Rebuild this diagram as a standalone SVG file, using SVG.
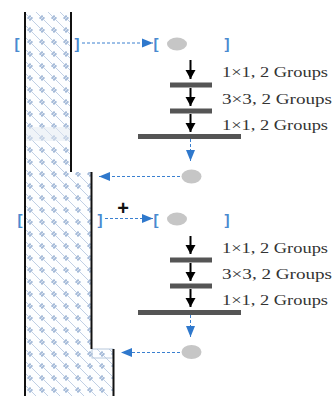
<svg xmlns="http://www.w3.org/2000/svg" width="336" height="396" viewBox="0 0 336 396">
<style>
.wall{stroke:#111;stroke-width:2;fill:none}
.bar{fill:#555}
.node{fill:#c6c6c6}
.blk{stroke:#000;stroke-width:2;fill:none}
.dash{stroke:#3a80d0;stroke-width:1;stroke-dasharray:3 2;fill:none}
.brk{font-family:"Liberation Sans",Arial,sans-serif;font-size:15px;font-weight:bold;fill:#4a8ad0}
.lbl{font-family:"Liberation Serif","Times New Roman",serif;font-size:15px;fill:#333}
</style>
<defs>
<pattern id="hatch" patternUnits="userSpaceOnUse" width="12" height="12">
<rect width="12" height="12" fill="#fdfeff"/>
<path d="M0 0 L12 12" stroke="#c0cfe4" stroke-width="1"/>
<circle cx="6" cy="4.3" r="1.1" fill="#9fb6d6"/>
<circle cx="7.7" cy="6" r="1.1" fill="#9fb6d6"/>
<circle cx="4.3" cy="6" r="1.1" fill="#9fb6d6"/>
<circle cx="6" cy="7.7" r="1.1" fill="#9fb6d6"/>
</pattern>
<marker id="ah" markerUnits="userSpaceOnUse" markerWidth="12" markerHeight="12" viewBox="0 0 12 12" refX="10" refY="6" orient="auto">
<path d="M1 1 L10 6 L1 11 Z" fill="#000"/>
</marker>
<marker id="bh" markerUnits="userSpaceOnUse" markerWidth="12" markerHeight="10" viewBox="0 0 12 10" refX="11" refY="5" orient="auto">
<path d="M0 0.5 L11 5 L0 9.5 Z" fill="#2f78cc"/>
</marker>
</defs>

<g id="column">
<path d="M25 12 L71 12 L71 172 L91.5 172 L91.5 349 L113.5 349 L113.5 396 L25 396 Z" fill="url(#hatch)"/>
<rect x="26" y="127" width="44" height="14" fill="#e4eaf2" opacity="0.5"/>
<rect x="92" y="349" width="21" height="9" fill="none" stroke="#b8c8dc" stroke-width="1"/>
<path class="wall" d="M25 12 L25 396"/>
<path class="wall" d="M71 12 L71 172"/>
<path class="wall" d="M91.5 172 L91.5 349"/>
<path class="wall" d="M113.5 349 L113.5 396"/>
</g>

<g id="block1">
<text class="brk" x="17" y="48.5" text-anchor="middle">[</text>
<text class="brk" x="77" y="48.5" text-anchor="middle">]</text>
<text class="brk" x="156" y="48.5" text-anchor="middle">[</text>
<ellipse class="node" cx="177" cy="44" rx="10" ry="6.5"/>
<text class="brk" x="227" y="48.5" text-anchor="middle">]</text>
<rect class="bar" x="170" y="82.5" width="42" height="5"/>
<rect class="bar" x="170" y="108.5" width="42" height="5"/>
<rect class="bar" x="138" y="134" width="103" height="5"/>
<text class="lbl" x="222" y="77" textLength="106" lengthAdjust="spacingAndGlyphs">1×1, 2 Groups</text>
<text class="lbl" x="222" y="103.5" textLength="110" lengthAdjust="spacingAndGlyphs">3×3, 2 Groups</text>
<text class="lbl" x="222" y="130" textLength="106" lengthAdjust="spacingAndGlyphs">1×1, 2 Groups</text>
<ellipse class="node" cx="191.5" cy="176.5" rx="10" ry="7"/>
</g>

<g id="block2">
<text class="brk" x="20" y="224.5" text-anchor="middle">[</text>
<text class="brk" x="100" y="224.5" text-anchor="middle">]</text>
<text x="123" y="215" text-anchor="middle" font-family="Liberation Sans,Arial,sans-serif" font-size="20" font-weight="bold" fill="#111">+</text>
<text class="brk" x="156" y="224.5" text-anchor="middle">[</text>
<ellipse class="node" cx="177" cy="219" rx="10" ry="6.5"/>
<text class="brk" x="227" y="224.5" text-anchor="middle">]</text>
<rect class="bar" x="170" y="257.5" width="42" height="5"/>
<rect class="bar" x="170" y="283.5" width="42" height="5"/>
<rect class="bar" x="138" y="310" width="103" height="5"/>
<text class="lbl" x="222" y="253" textLength="106" lengthAdjust="spacingAndGlyphs">1×1, 2 Groups</text>
<text class="lbl" x="222" y="279" textLength="110" lengthAdjust="spacingAndGlyphs">3×3, 2 Groups</text>
<text class="lbl" x="222" y="305" textLength="106" lengthAdjust="spacingAndGlyphs">1×1, 2 Groups</text>
<ellipse class="node" cx="191.5" cy="352" rx="10" ry="7"/>
</g>

<g id="connectors">
<line class="dash" x1="82" y1="43" x2="153" y2="43" marker-end="url(#bh)"/>
<line class="blk" x1="190.5" y1="60" x2="190.5" y2="79" marker-end="url(#ah)"/>
<line class="blk" x1="190.5" y1="88" x2="190.5" y2="106" marker-end="url(#ah)"/>
<line class="blk" x1="190.5" y1="114" x2="190.5" y2="132" marker-end="url(#ah)"/>
<line class="dash" x1="190.5" y1="139" x2="190.5" y2="161" marker-end="url(#bh)"/>
<line class="dash" x1="180" y1="176.5" x2="99" y2="176.5" marker-end="url(#bh)"/>

<line class="dash" x1="105" y1="218.5" x2="153" y2="218.5" marker-end="url(#bh)"/>
<line class="blk" x1="190.5" y1="236" x2="190.5" y2="254" marker-end="url(#ah)"/>
<line class="blk" x1="190.5" y1="263" x2="190.5" y2="281" marker-end="url(#ah)"/>
<line class="blk" x1="190.5" y1="289" x2="190.5" y2="307" marker-end="url(#ah)"/>
<line class="dash" x1="190.5" y1="315" x2="190.5" y2="337" marker-end="url(#bh)"/>
<line class="dash" x1="180" y1="352.5" x2="121" y2="352.5" marker-end="url(#bh)"/>
</g>
</svg>
